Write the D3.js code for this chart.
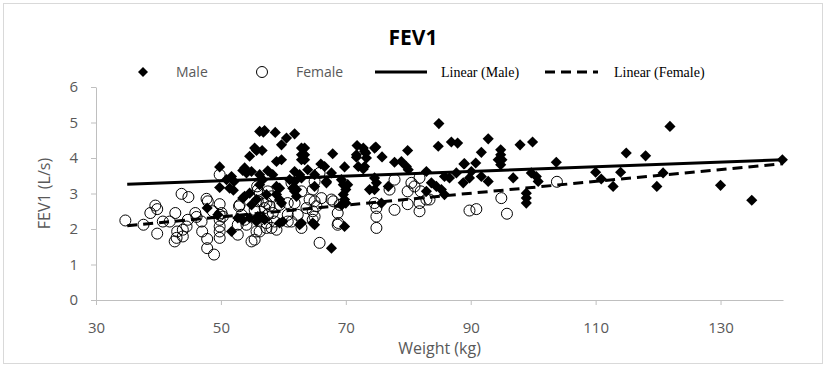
<!DOCTYPE html>
<meta charset="utf-8">
<style>
body { margin: 0; background: #fff; }
svg { display: block; }
.axis path, .axis line { stroke: #bfbfbf; }
.axis text { fill: #595959; font: 15px 'Open Sans', sans-serif; }
.ttl { fill: #595959; font: 16px 'Open Sans', sans-serif; }
.leg { fill: #595959; font: 14px 'Open Sans', sans-serif; }
.legs { fill: #000; font: 14px 'Liberation Serif', serif; }
</style>
<svg width="826" height="367"></svg>
<script src="https://d3js.org/d3.v7.min.js"></script>
<script>

// weight (kg), FEV1 (L/s)
var malePoints = [
  [47.8,2.59],[49.5,2.40],[49.8,3.75],[49.8,3.17],[50.9,3.39],[51.7,3.48],[52.1,3.34],[51.4,3.15],[51.7,1.93],[52.0,3.09],
  [53.8,3.72],[53.5,3.65],[54.1,3.58],[54.9,3.62],[54.6,4.05],[55.7,4.21],[55.4,4.28],[56.8,4.73],[56.2,4.75],
  [53.8,2.92],[54.6,3.01],[55.7,2.83],[54.9,2.68],[53.5,2.87],
  [52.7,2.31],[53.5,2.26],[54.6,2.31],[55.7,2.21],[56.8,2.31],[55.9,2.35],
  [56.7,3.39],[56.2,3.53],[56.2,3.25],[57.3,2.97],[57.0,2.26],
  [57.0,4.77],[58.7,4.72],[60.5,4.56],[61.8,4.68],[59.7,4.37],[56.6,4.21],
  [62.9,4.28],[63.4,4.28],[62.9,4.09],[63.4,4.09],[62.9,3.95],[63.4,3.95],
  [58.9,3.90],[59.7,3.95],[57.5,3.64],[58.3,3.53],
  [61.8,3.62],[62.6,3.53],[63.9,3.67],[65.0,3.53],[66.0,3.83],[67.9,4.12],[67.7,3.58],
  [61.0,3.39],[61.8,3.34],[62.9,3.44],[66.9,3.34],[65.0,3.20],[61.5,3.15],[62.1,3.11],[59.4,3.15],[58.9,3.20],
  [61.8,3.06],[62.1,2.92],[58.9,2.97],[59.4,2.83],[59.7,2.73],
  [59.9,2.21],[59.4,2.17],[62.9,2.17],[64.7,2.17],[62.6,2.12],[65.0,2.12],
  [69.8,3.75],[69.3,3.39],[69.6,3.25],[70.0,3.11],[69.6,2.97],[69.8,2.83],[69.3,2.68],[70.0,2.73],[70.3,3.25],
  [69.8,2.07],[67.7,1.46],[66.6,3.76],[66.9,3.30],
  [71.8,4.35],[72.8,4.28],[73.0,4.19],[74.6,4.28],[75.8,4.03],[71.7,4.02],[73.3,4.00],[72.0,3.76],[73.0,3.76],[73.2,4.14],[71.7,4.09],[72.8,3.69],[74.8,4.31],
  [74.6,3.44],[74.9,3.30],[73.8,3.11],[74.6,3.11],[76.8,3.20],[75.7,2.73],
  [77.8,3.88],[78.9,3.90],[79.7,3.76],[80.0,3.67],[79.9,4.21],
  [82.9,3.62],[83.7,3.30],[84.5,3.20],[85.3,3.11],[85.8,2.97],[82.9,3.06],
  [85.8,3.48],[86.6,3.44],[87.7,3.58],[88.9,3.83],[88.8,3.30],
  [84.9,4.97],[84.8,4.33],[86.9,4.45],[87.9,4.42],
  [89.0,3.84],[90.8,3.86],[89.8,3.44],[90.1,3.62],[91.7,3.48],[92.8,3.34],[91.7,4.16],[92.8,4.54],
  [94.8,4.23],[94.8,4.09],[94.4,3.95],[95.0,3.95],[94.8,3.81],
  [96.8,3.44],[97.9,4.37],[99.9,4.45],[99.7,3.58],[100.5,3.48],[100.8,3.34],
  [98.9,3.01],[98.9,2.87],[98.9,2.73],[103.7,3.88],
  [110.0,3.60],[110.9,3.41],[112.8,3.20],[114.0,3.60],[114.9,4.14],[118.0,4.06],[121.9,4.89],[120.8,3.58],[119.8,3.20],
  [130.0,3.23],[135.0,2.81],[139.9,3.95]
];

var femalePoints = [
  [34.7,2.24],[37.6,2.12],[39.5,2.66],[39.8,2.56],[38.7,2.45],[39.8,1.87],[40.7,2.21],[41.8,2.21],[42.7,2.45],[43.0,1.93],
  [43.9,1.98],[42.9,1.75],[42.6,1.65],[44.5,2.07],[43.7,2.99],[44.8,2.90],[44.7,2.26],[43.9,1.79],[45.9,2.45],[46.1,2.34],
  [46.9,2.21],[47.0,1.93],[47.8,1.46],[48.9,1.28],[47.8,1.72],[47.7,2.85],[47.9,2.78],[48.7,2.50],
  [49.8,3.53],[49.8,2.70],[49.8,2.40],[49.8,2.26],[49.8,2.07],[49.8,1.93],[49.8,1.75],[50.1,2.45],[50.3,2.35],
  [52.7,2.12],[52.7,1.84],[52.9,2.64],[53.8,2.26],[54.1,2.12],[54.9,1.65],[55.7,1.93],[55.4,2.54],[55.9,3.10],
  [56.2,3.01],[56.7,2.78],[57.0,2.59],[57.3,2.17],[57.3,2.03],[53.0,2.68],[53.3,2.40],
  [55.8,3.20],[57.5,3.06],[58.1,2.92],[55.9,2.78],[57.3,2.73],[57.8,2.64],[59.4,2.68],[60.7,2.73],[57.5,2.40],[58.3,2.45],
  [60.7,2.40],[61.3,2.21],[58.1,2.03],[58.9,1.98],[56.2,1.93],[55.4,1.70],
  [61.8,2.73],[64.2,2.83],[65.0,2.78],[65.3,2.64],[64.7,2.50],[62.3,2.40],[62.9,2.03],[65.8,1.61],[68.0,2.78],[66.1,2.87],
  [58.6,2.21],[60.7,2.21],[63.7,2.59],[65.0,2.35],[64.7,2.26],[61.3,3.30],[62.9,3.06],[67.7,2.83],[65.8,3.58],[65.0,3.34],[64.7,3.11],
  [68.7,2.45],[68.7,2.12],[69.0,2.68],[68.8,2.17],
  [74.6,2.73],[74.9,2.59],[74.9,2.35],[74.9,2.03],[77.0,3.11],[77.8,3.39],[77.8,2.54],[79.9,3.06],[79.9,2.70],
  [80.5,3.30],[81.0,3.20],[81.8,3.44],[82.0,3.06],[82.9,2.83],[81.8,2.73],[81.8,2.50],
  [83.4,2.83],[94.9,2.87],[89.8,2.52],[90.9,2.56],[95.8,2.43],[103.8,3.33]
];

// trendline end points
var maleTrend = [[35, 3.26], [140, 3.95]];
var femaleTrend = [[35, 2.09], [140, 3.84]];

var xTicks = [30, 50, 70, 90, 110, 130];
var yTicks = [0, 1, 2, 3, 4, 5, 6];

var svg = d3.select("svg");

svg.append("rect")
    .attr("x", 3.5).attr("y", 3.5)
    .attr("width", 819).attr("height", 360)
    .attr("fill", "#fff").attr("stroke", "#d9d9d9");

var x = d3.scaleLinear().domain([30, 140]).range([96, 783]),
    y = d3.scaleLinear().domain([0, 6]).range([300, 87]);

svg.append("g")
    .attr("class", "axis")
    .attr("transform", "translate(0,300)")
    .call(d3.axisBottom(x).tickValues(xTicks).tickFormat(d3.format("d"))
        .tickSize(5).tickPadding(17).tickSizeOuter(0));

svg.append("g")
    .attr("class", "axis")
    .attr("transform", "translate(96,0)")
    .call(d3.axisLeft(y).tickValues(yTicks).tickFormat(d3.format("d"))
        .tickSize(5).tickPadding(13).tickSizeOuter(0));

var diamond = d3.symbol().type(d3.symbolSquare).size(62);

svg.append("g").selectAll("path")
    .data(malePoints)
  .enter().append("path")
    .attr("d", diamond)
    .attr("transform", function(d) { return "translate(" + x(d[0]) + "," + y(d[1]) + ") rotate(45)"; })
    .attr("fill", "#000");

svg.append("g").selectAll("circle")
    .data(femalePoints)
  .enter().append("circle")
    .attr("cx", function(d) { return x(d[0]); })
    .attr("cy", function(d) { return y(d[1]); })
    .attr("r", 5.5)
    .attr("fill", "none")
    .attr("stroke", "#000")
    .attr("stroke-width", 1);

var line = d3.line()
    .x(function(d) { return x(d[0]); })
    .y(function(d) { return y(d[1]); });

svg.append("path")
    .datum(maleTrend)
    .attr("d", line)
    .attr("fill", "none").attr("stroke", "#000").attr("stroke-width", 3);

svg.append("path")
    .datum(femaleTrend)
    .attr("d", line)
    .attr("fill", "none").attr("stroke", "#000").attr("stroke-width", 3)
    .attr("stroke-dasharray", "10,6");

// titles
svg.append("text")
    .attr("x", 413).attr("y", 45)
    .attr("text-anchor", "middle")
    .style("font", "bold 21px 'Open Sans', sans-serif")
    .text("FEV1");

svg.append("text")
    .attr("class", "ttl")
    .attr("x", (x.range()[0] + x.range()[1]) / 2).attr("y", 354)
    .attr("text-anchor", "middle")
    .text("Weight (kg)");

svg.append("text")
    .attr("class", "ttl")
    .attr("transform", "translate(50," + (y.range()[0] + y.range()[1]) / 2 + ") rotate(-90)")
    .attr("text-anchor", "middle")
    .text("FEV1 (L/s)");

// legend
var leg = svg.append("g").attr("transform", "translate(0,72)");

leg.append("path")
    .attr("d", d3.symbol().type(d3.symbolSquare).size(50))
    .attr("transform", "translate(143,0) rotate(45)");
leg.append("text").attr("class", "leg").attr("x", 176).attr("dy", "0.35em").text("Male");

leg.append("circle").attr("cx", 262).attr("r", 5.5)
    .attr("fill", "none").attr("stroke", "#000");
leg.append("text").attr("class", "leg").attr("x", 296).attr("dy", "0.35em").text("Female");

leg.append("line").attr("x1", 375).attr("x2", 427)
    .attr("stroke", "#000").attr("stroke-width", 3);
leg.append("text").attr("class", "legs").attr("x", 441).attr("dy", "0.35em").text("Linear (Male)");

leg.append("line").attr("x1", 545).attr("x2", 598)
    .attr("stroke", "#000").attr("stroke-width", 3).attr("stroke-dasharray", "10,6");
leg.append("text").attr("class", "legs").attr("x", 614).attr("dy", "0.35em").text("Linear (Female)");

</script>
